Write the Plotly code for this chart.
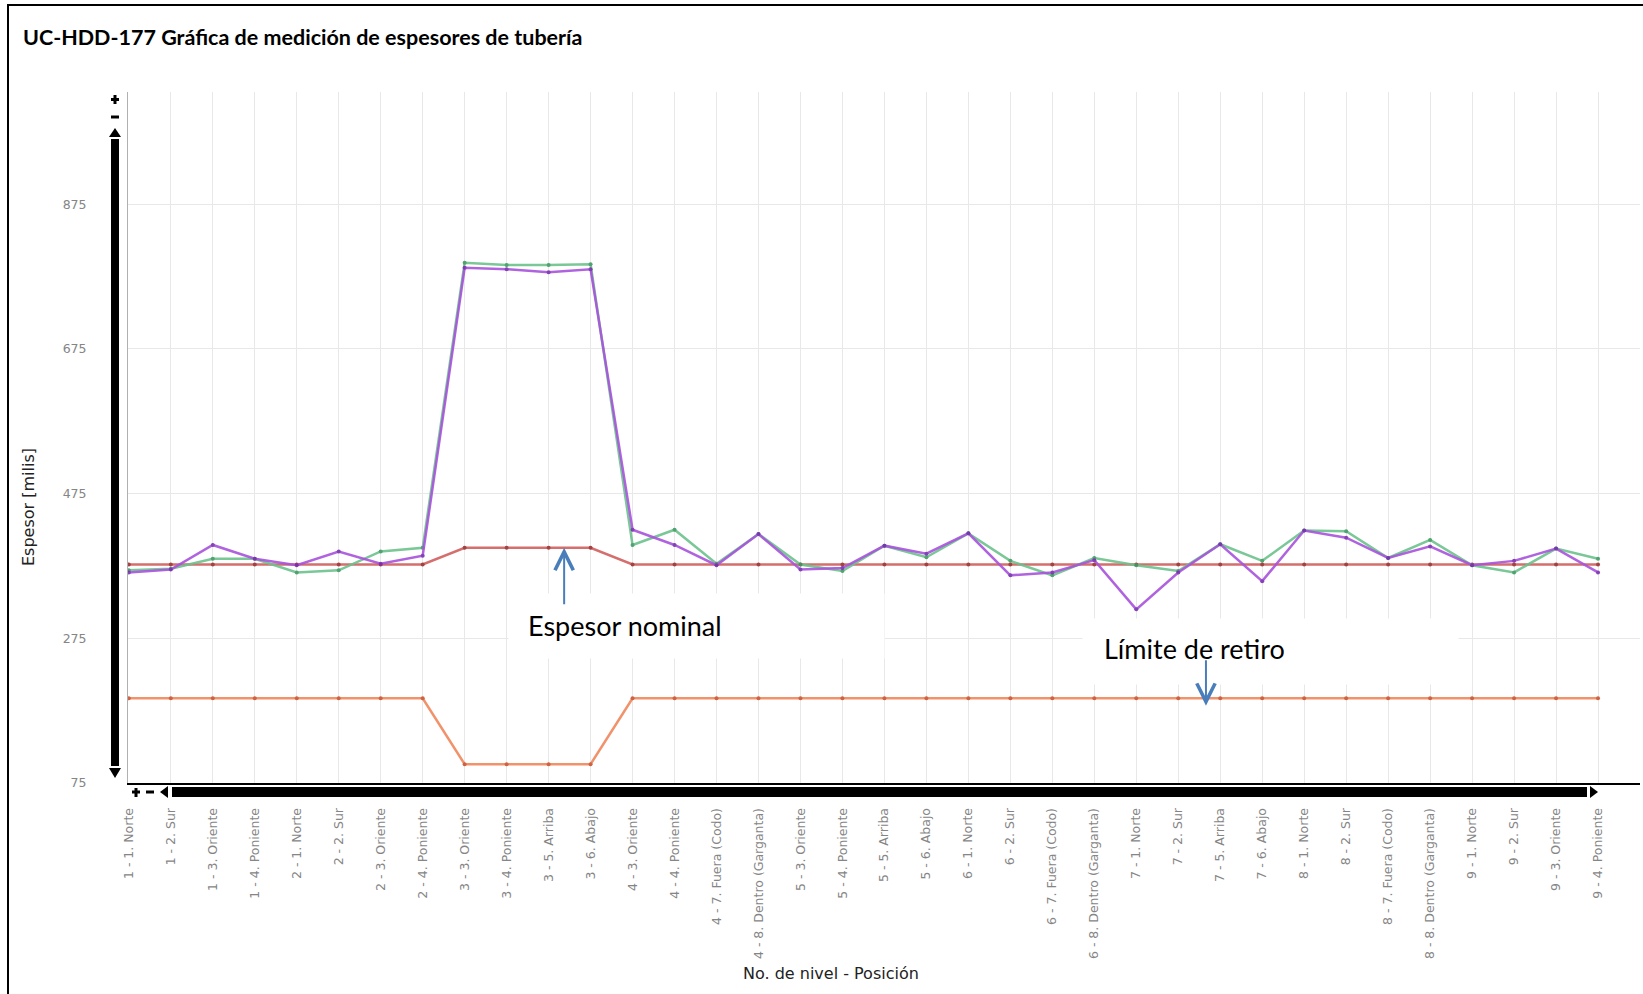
import plotly.graph_objects as go

# nivel - posición de cada lectura
posiciones = [
    "1 - 1. Norte", "1 - 2. Sur", "1 - 3. Oriente", "1 - 4. Poniente",
    "2 - 1. Norte", "2 - 2. Sur", "2 - 3. Oriente", "2 - 4. Poniente",
    "3 - 3. Oriente", "3 - 4. Poniente", "3 - 5. Arriba", "3 - 6. Abajo",
    "4 - 3. Oriente", "4 - 4. Poniente", "4 - 7. Fuera (Codo)", "4 - 8. Dentro (Garganta)",
    "5 - 3. Oriente", "5 - 4. Poniente", "5 - 5. Arriba", "5 - 6. Abajo",
    "6 - 1. Norte", "6 - 2. Sur", "6 - 7. Fuera (Codo)", "6 - 8. Dentro (Garganta)",
    "7 - 1. Norte", "7 - 2. Sur", "7 - 5. Arriba", "7 - 6. Abajo",
    "8 - 1. Norte", "8 - 2. Sur", "8 - 7. Fuera (Codo)", "8 - 8. Dentro (Garganta)",
    "9 - 1. Norte", "9 - 2. Sur", "9 - 3. Oriente", "9 - 4. Poniente",
]

# espesores medidos [milis]
lectura_verde = [369, 371, 385, 385, 366, 369, 395, 400,
                 794, 791, 791, 792, 404, 425, 378, 419,
                 377, 368, 403, 387, 420, 382, 362, 386,
                 376, 368, 405, 382, 424, 423, 386, 411,
                 376, 366, 399, 385]
lectura_morada = [366, 370, 404, 385, 376, 395, 378, 389,
                  787, 785, 781, 785, 425, 404, 376, 419,
                  370, 372, 403, 392, 420, 362, 366, 383,
                  315, 366, 405, 354, 424, 414, 386, 402,
                  376, 382, 399, 366]
espesor_nominal = [377] * 8 + [400] * 4 + [377] * 24
limite_retiro = [192] * 8 + [101] * 4 + [192] * 24

y_ticks = [75, 275, 475, 675, 875]

# plot area in pixels (1643 x 994 page)
L, R, T, B = 128, 1640, 92, 783


def px(x):
    return (x - L) / (R - L)


def py(y):
    return (B - y) / (B - T)


fig = go.Figure()

series = [
    (limite_retiro, "#f0875c", "#c9542e"),
    (espesor_nominal, "#d0605e", "#9a2f2f"),
    (lectura_verde, "#6cc18c", "#3f9a62"),
    (lectura_morada, "#a853dc", "#7a2fb0"),
]
for vals, col, mcol in series:
    fig.add_trace(go.Scatter(
        x=posiciones, y=vals, mode="lines+markers",
        line=dict(color=col, width=2.5),
        marker=dict(size=4, color=mcol),
        opacity=0.9, showlegend=False,
    ))

shapes = []
# scroll bars of the original viewer
shapes.append(dict(type="rect", xref="paper", yref="paper",
                   x0=px(111), x1=px(119), y0=py(139), y1=py(766),
                   fillcolor="black", line=dict(width=0)))
shapes.append(dict(type="rect", xref="paper", yref="paper",
                   x0=px(172), x1=px(1587), y0=py(787), y1=py(797),
                   fillcolor="black", line=dict(width=0)))


def tri(pts):
    p = "M " + " L ".join(f"{px(a):.5f},{py(b):.5f}" for a, b in pts) + " Z"
    return dict(type="path", xref="paper", yref="paper", path=p,
                fillcolor="black", line=dict(width=0))


shapes.append(tri([(115, 128), (109, 137), (121, 137)]))
shapes.append(tri([(115, 778), (109, 768), (121, 768)]))
shapes.append(tri([(160, 792), (168, 786), (168, 798)]))
shapes.append(tri([(1598, 792), (1590, 786), (1590, 798)]))


def bar(x0, x1, y0, y1):
    return dict(type="rect", xref="paper", yref="paper",
                x0=px(x0), x1=px(x1), y0=py(y0), y1=py(y1),
                fillcolor="black", line=dict(width=0))


# + and - buttons
shapes += [bar(111, 119, 98, 101), bar(113.5, 116.5, 95, 104), bar(111, 119, 115.5, 118.5)]
shapes += [bar(132, 140, 790.5, 793.5), bar(134.5, 137.5, 788, 797), bar(146, 154, 790.5, 793.5)]

# frame
shapes.append(dict(type="rect", xref="paper", yref="paper",
                   x0=px(8), x1=px(1700), y0=py(1100), y1=py(5),
                   fillcolor="rgba(0,0,0,0)", line=dict(color="black", width=2)))

annotations = [
    dict(xref="paper", yref="paper", x=px(21), y=py(37), xanchor="left", yanchor="middle",
         text="<b>UC-HDD-177 Gráfica de medición de espesores de tubería</b>",
         showarrow=False, font=dict(family="Lato, sans-serif", size=21.5, color="black")),
    dict(xref="paper", yref="paper", x=px(28), y=py(507), xanchor="center", yanchor="middle",
         textangle=-90, text="Espesor [milis]", showarrow=False,
         font=dict(family="DejaVu Sans, sans-serif", size=16, color="#222")),
    dict(xref="paper", yref="paper", x=px(831), y=py(973), xanchor="center", yanchor="middle",
         text="No. de nivel - Posición", showarrow=False,
         font=dict(family="DejaVu Sans, sans-serif", size=16, color="#222")),
    # white boxes behind the callouts
    dict(xref="paper", yref="paper", x=px(508), y=py(593), xanchor="left", yanchor="top",
         text=" ", showarrow=False, width=375, height=64, bgcolor="white", borderpad=0),
    dict(xref="paper", yref="paper", x=px(1082), y=py(618), xanchor="left", yanchor="top",
         text=" ", showarrow=False, width=375, height=65, bgcolor="white", borderpad=0),
    dict(xref="paper", yref="paper", x=px(526), y=py(625), xanchor="left", yanchor="middle",
         text="Espesor nominal", showarrow=False,
         font=dict(family="Lato, Open Sans, sans-serif", size=27, color="black")),
    dict(xref="paper", yref="paper", x=px(1102), y=py(648), xanchor="left", yanchor="middle",
         text="Límite de retiro", showarrow=False,
         font=dict(family="Lato, Open Sans, sans-serif", size=27, color="black")),
    # blue arrows
    dict(x=10.37, y=espesor_nominal[10], xref="x", yref="y", text="", showarrow=True,
         ax=0, ay=58, arrowhead=5, arrowsize=1.8, arrowwidth=2, arrowcolor="#4a7ebb"),
    dict(x=25.66, y=181.8, xref="x", yref="y", text="", showarrow=True,
         ax=0, ay=-47, arrowhead=5, arrowsize=1.8, arrowwidth=2, arrowcolor="#4a7ebb"),
]

fig.update_layout(
    width=1643, height=994, autosize=False,
    margin=dict(l=L, r=1643 - R, t=T, b=994 - B),
    paper_bgcolor="white", plot_bgcolor="white",
    shapes=shapes, annotations=annotations,
    xaxis=dict(
        type="category", range=[-0.02, 36], tickangle=-90,
        showgrid=True, gridcolor="#e8e8e8", gridwidth=1,
        showline=True, linecolor="black", linewidth=2,
        ticks="outside", ticklen=18, tickcolor="rgba(0,0,0,0)",
        tickfont=dict(family="DejaVu Sans, sans-serif", size=12.5, color="#858585"),
        automargin=False,
    ),
    yaxis=dict(
        range=[75, 1030], tickvals=y_ticks,
        showgrid=True, gridcolor="#e8e8e8", gridwidth=1,
        showline=True, linecolor="#b0b0b0", linewidth=1, zeroline=False,
        ticks="outside", ticklen=38, tickcolor="rgba(0,0,0,0)",
        tickfont=dict(family="DejaVu Sans, sans-serif", size=12.5, color="#858585"),
        automargin=False,
    ),
)

fig.write_html("out.html", config={"displayModeBar": False},
               post_script="document.body.style.margin='0';")
